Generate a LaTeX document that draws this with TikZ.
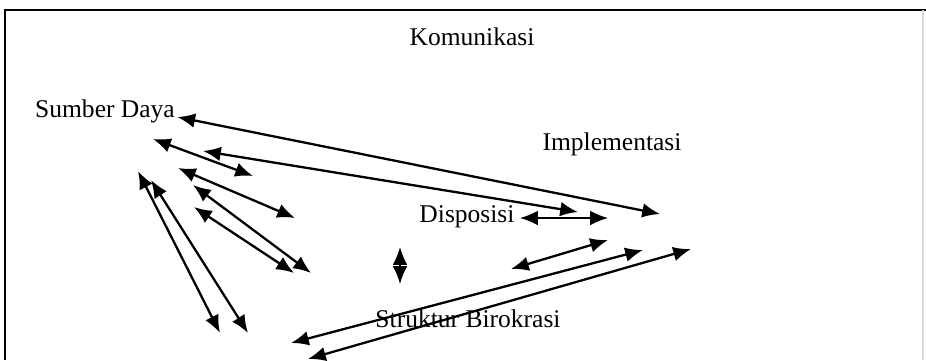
\documentclass[tikz,border=0pt]{standalone}
\usepackage{fontspec}
\setmainfont{Liberation Serif}
\usetikzlibrary{arrows.meta}
\begin{document}
\begin{tikzpicture}[x=0.0168cm, y=-0.0168cm, >={Latex[length=8.5pt,width=7pt]},
    lbl/.style={anchor=base, inner sep=1pt, font=\fontsize{12.2}{14}\selectfont}]
    \useasboundingbox (0,0) rectangle (926,360);
    \draw[line width=1.3pt] (926,10) -- (5,10) -- (5,360);
    \draw[black!15, line width=0.6pt] (923,10) -- (923,360);

    \node[lbl] (komunikasi) at (472,45) {Komunikasi};
    \node[lbl] (sumber) at (105,117) {Sumber Daya};
    \node[lbl] (implementasi) at (612,150) {Implementasi};
    \node[lbl] (disposisi) at (467,222) {Disposisi};
    \node[lbl] (struktur) at (468,327) {Struktur Birokrasi};

    \coordinate (a1) at (660,214);
    \coordinate (a2) at (203,151);  \coordinate (b2) at (578,212);
    \coordinate (a3) at (153,139);  \coordinate (b3) at (253,176);
    \coordinate (a4) at (178,168);  \coordinate (b4) at (295,218);
    \coordinate (a5) at (193,185);  \coordinate (b5) at (311,273);
    \coordinate (a6) at (194,207);  \coordinate (b6) at (294,273);
    \coordinate (a7) at (138,171);  \coordinate (b7) at (220,333);
    \coordinate (a8) at (151,180);  \coordinate (b8) at (248,333);
    \coordinate (a9) at (400,247);  \coordinate (b9) at (400,284);
    \coordinate (a10) at (520,218); \coordinate (b10) at (608,218);
    \coordinate (a11) at (511,269); \coordinate (b11) at (608,240);
    \coordinate (a12) at (291,343); \coordinate (b12) at (643,250);
    \coordinate (a13) at (308,359); \coordinate (b13) at (691,249);

    \draw[<->, line width=1.1pt] (sumber.base east) -- (a1);
    \draw[<->, line width=1.1pt] (a2) -- (b2);
    \draw[<->, line width=1.1pt] (a3) -- (b3);
    \draw[<->, line width=1.1pt] (a4) -- (b4);
    \draw[<->, line width=1.1pt] (a5) -- (b5);
    \draw[<->, line width=1.1pt] (a6) -- (b6);
    \draw[<->, line width=1.1pt] (a7) -- (b7);
    \draw[<->, line width=1.1pt] (a8) -- (b8);
    \draw[<->, line width=0.8pt] (a9) -- (b9);
    \draw[<->, line width=0.8pt] (a10) -- (b10);
    \draw[<->, line width=1.1pt] (a11) -- (b11);
    \draw[<->, line width=1.1pt] (a12) -- (b12);
    \draw[<->, line width=1.1pt] (a13) -- (b13);
\end{tikzpicture}
\end{document}
